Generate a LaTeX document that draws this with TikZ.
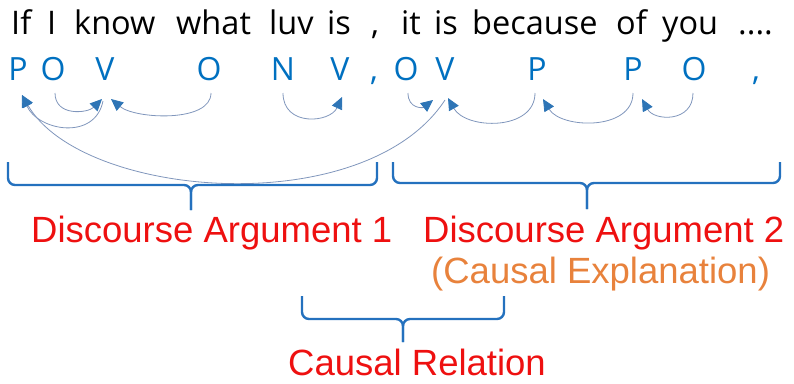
\documentclass[tikz,border=0pt]{standalone}
\usepackage{fontspec}
\setmainfont{Open Sans}
\newfontfamily\arialf{Liberation Sans}
\usetikzlibrary{arrows.meta}
\definecolor{tagblue}{RGB}{0,112,192}
\definecolor{arcgray}{RGB}{128,150,188}
\definecolor{headblue}{RGB}{46,117,182}
\definecolor{braceblue}{RGB}{36,113,190}
\definecolor{argred}{RGB}{238,16,16}
\definecolor{explorange}{RGB}{232,130,60}
\begin{document}
\begin{tikzpicture}[x=1pt,y=-1pt,
  word/.style={font=\fontsize{32.5}{36}\selectfont, inner sep=0, anchor=base west},
  tag/.style={font=\fontsize{32}{36}\selectfont, text=tagblue, inner sep=0, anchor=base},
  dep/.style={draw=arcgray, line width=0.8pt, -{Triangle[length=12pt,width=11pt,color=headblue]}},
  bracestroke/.style={draw=braceblue, line width=2.4pt, rounded corners=7pt},
  arg/.style={font=\arialf\fontsize{36.5}{40}\selectfont, text=argred, inner sep=0, anchor=base west},
  expl/.style={font=\arialf\fontsize{36.5}{40}\selectfont, text=explorange, inner sep=0, anchor=base west}]
\useasboundingbox (0,0) rectangle (794,383);
% sentence
\node[word] (w1) at (11,34) {If};
\node[word] (w2) at (47,34) {I};
\node[word] (w3) at (74,34) {know};
\node[word] (w4) at (176,34) {what};
\node[word] (w5) at (269,34) {luv};
\node[word] (w6) at (327,34) {is};
\node[word] (w7) at (371,34) {,};
\node[word] (w8) at (401,34) {it};
\node[word] (w9) at (434,34) {is};
\node[word] (w10) at (472,34) {because};
\node[word] (w11) at (616,34) {of};
\node[word] (w12) at (662,34) {you};
\node[word] (w13) at (738,34) {....};
% tags
\node[tag] (t1) at (18,80) {P};
\node[tag] (t2) at (53,80) {O};
\node[tag] (t3) at (105,80) {V};
\node[tag] (t4) at (209,80) {O};
\node[tag] (t5) at (283,80) {N};
\node[tag] (t6) at (340,80) {V};
\node[tag] (t7) at (374,80) {,};
\node[tag] (t8) at (406,80) {O};
\node[tag] (t9) at (445,80) {V};
\node[tag] (t10) at (537,80) {P};
\node[tag] (t11) at (633,80) {P};
\node[tag] (t12) at (694,80) {O};
\node[tag] (t13) at (756,80) {,};
% dependency arcs
\draw[dep] ([xshift=2pt,yshift=-13pt]t2.base) .. controls +(0,24) and +(-14,14) .. ([xshift=-3pt,yshift=-19pt]t3.base);
\draw[dep] ([xshift=2pt,yshift=-13pt]t4.base) .. controls +(0,30) and +(24,20) .. ([xshift=6pt,yshift=-19pt]t3.base);
\draw[dep] ([xshift=-2pt,yshift=-21pt]t3.base) .. controls +(-8,40) and +(16,36) .. ([xshift=4pt,yshift=-15pt]t1.base);
\draw[dep] ([yshift=-13pt]t5.base) .. controls +(0,34) and +(-12,26) .. ([xshift=2pt,yshift=-17pt]t6.base);
\draw[dep] ([xshift=2pt,yshift=-13pt]t8.base) .. controls +(0,16) and +(-10,8) .. ([xshift=-12pt,yshift=-20pt]t9.base);
\draw[dep] ([xshift=-2pt,yshift=-13pt]t10.base) .. controls +(0,38) and +(18,32) .. ([xshift=3pt,yshift=-18pt]t9.base);
\draw[dep] ([yshift=-13pt]t11.base) .. controls +(0,38) and +(18,30) .. ([xshift=6pt,yshift=-19pt]t10.base);
\draw[dep] ([xshift=-1pt,yshift=-13pt]t12.base) .. controls +(0,30) and +(12,22) .. ([xshift=9pt,yshift=-19pt]t11.base);
\draw[dep] ([yshift=-20pt]t9.base) .. controls +(-80,122) and +(60,104) .. ([xshift=4pt,yshift=-15pt]t1.base);
% braces
\draw[bracestroke] (8,162) |- (191,185) -- (191,210);
\draw[bracestroke] (377,162) |- (191,185) -- (191,210);
\draw[bracestroke] (393,162) |- (587,183) -- (587,209);
\draw[bracestroke] (780,162) |- (587,183) -- (587,209);
\draw[bracestroke] (302,296) |- (403,319) -- (403,342);
\draw[bracestroke] (504,296) |- (403,319) -- (403,342);
% labels
\node[arg] (a1) at (31,242) {Discourse Argument 1};
\node[arg] (a2) at (423,242) {Discourse Argument 2};
\node[expl] (e2) at (431,283) {(Causal Explanation)};
\node[arg] (cr) at (288,375) {Causal Relation};
\end{tikzpicture}
\end{document}
